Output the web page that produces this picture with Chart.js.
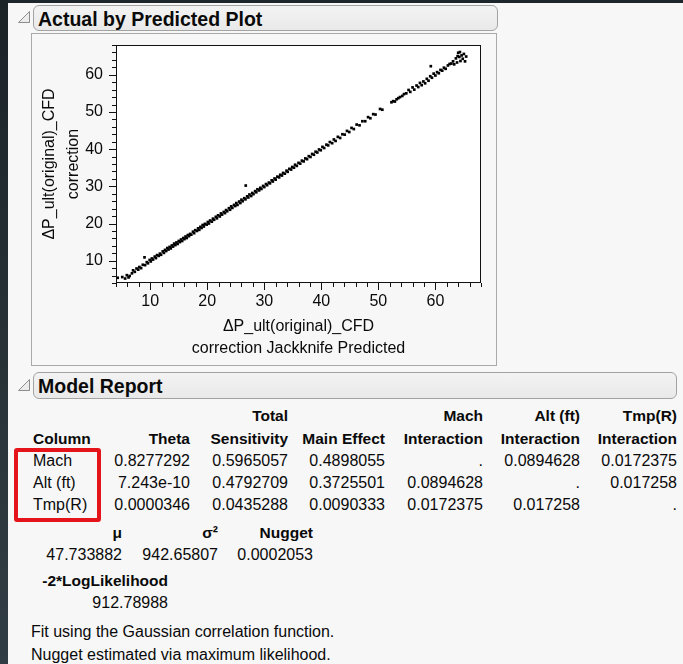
<!DOCTYPE html>
<html>
<head>
<meta charset="utf-8">
<script src="https://cdn.jsdelivr.net/npm/chart.js@4/dist/chart.umd.min.js"></script>
<style>
  html, body { margin: 0; padding: 0; }
  body { width: 683px; height: 664px; overflow: hidden; background: #1d262b; font-family: "Liberation Sans", Arial, sans-serif; color: #0a0a0a; }
  #page { position: absolute; left: 8px; top: 3px; width: 675px; height: 661px; background: #f7f7f7; }
  #strip { position: absolute; left: 0; top: 0; width: 8px; height: 664px; background: linear-gradient(#1b2327, #2b363c 70%, #313d44); }
  .hdr { position: absolute; left: 33px; height: 26px; border: 1px solid #a3a3a3; border-radius: 6px;
         background: linear-gradient(#f3f3f3, #e9e9e9); box-sizing: border-box; }
  .hdr span { position: absolute; left: 4px; top: 2px; font-weight: bold; font-size: 19.5px; line-height: 22px; }
  .tri { position: absolute; left: 0; top: 0; }
  #plotBox { position: absolute; left: 31px; top: 33px; width: 466px; height: 333px; box-sizing: border-box;
             border: 1px solid #a9a9a9; background: #f7f7f7; }
  #plotBox canvas { position: absolute; left: 0; top: 0; }
  .t { position: absolute; white-space: nowrap; font-size: 16px; line-height: 22px; }
  .b { font-weight: bold; font-size: 15.5px; }
  #redBox { position: absolute; left: 14px; top: 448px; width: 87px; height: 74px; box-sizing: border-box;
            border: 4px solid #e5141b; border-radius: 3px; }
</style>
</head>
<body>
<div id="page"></div>
<div id="strip"></div>
<svg class="tri" width="40" height="400">
  <polygon points="29.5,11.5 29.5,22.5 18.5,22.5" fill="#ececec" stroke="#8c8c8c"/>
  <polygon points="29.5,379.5 29.5,390.5 18.5,390.5" fill="#ececec" stroke="#8c8c8c"/>
</svg>
<div class="hdr" style="top:5px;width:465px"><span>Actual by Predicted Plot</span></div>
<div id="plotBox"><canvas id="avp" width="464" height="331"></canvas></div>
<div class="hdr" style="top:372px;width:644px;height:27px"><span>Model Report</span></div>
<div id="report"></div>
<div id="redBox"></div>
<script>
// jackknife predicted vs actual, read point by point
const predicted = [
  4.3, 5.1, 5.6, 5.9, 6.2, 6.4, 6.8, 7.0, 7.3, 7.6,
  7.9, 8.1, 8.4, 8.7, 9.0, 9.1, 9.4, 9.6, 9.9, 10.1,
  10.3, 10.5, 10.8, 11.0, 11.2, 11.5, 11.7, 11.9, 12.2, 12.4,
  12.6, 12.8, 13.0, 13.2, 13.4, 13.6, 13.8, 14.0, 14.2, 14.4,
  14.6, 14.8, 15.0, 15.2, 15.4, 15.6, 15.8, 16.0, 16.2, 16.4,
  16.6, 16.8, 17.0, 17.2, 17.5, 17.7, 17.9, 18.2, 18.4, 18.6,
  18.8, 19.0, 19.2, 19.4, 19.6, 19.9, 20.1, 20.3, 20.5, 20.8,
  21.0, 21.2, 21.5, 21.7, 21.9, 22.2, 22.4, 22.6, 22.9, 23.1,
  23.3, 23.5, 23.8, 24.0, 24.2, 24.4, 24.7, 24.9, 25.1, 25.3,
  25.6, 25.8, 26.0, 26.2, 26.5, 26.75, 26.7, 27.0, 27.2, 27.4,
  27.7, 27.9, 28.1, 28.4, 28.6, 28.8, 29.1, 29.3, 29.5, 29.8,
  30.0, 30.3, 30.5, 30.8, 31.0, 31.3, 31.5, 31.8, 32.0, 32.3,
  32.6, 32.8, 33.1, 33.3, 33.6, 33.9, 34.1, 34.4, 34.7, 34.9,
  35.2, 35.4, 35.7, 36.0, 36.3, 36.6, 36.9, 37.2, 37.5, 37.8,
  38.1, 38.4, 38.7, 39.0, 39.3, 39.6, 39.9, 40.2, 40.5, 40.9,
  41.2, 41.5, 41.9, 42.2, 42.5, 42.9, 43.3, 43.7, 44.1, 44.5,
  44.9, 45.3, 45.7, 46.2, 46.7, 47.2, 47.7, 48.2, 48.6, 49.1,
  49.5, 50.3, 50.7, 52.3, 52.6, 52.9, 53.2, 53.5, 53.8, 54.2,
  54.5, 54.9, 55.3, 55.6, 56.0, 56.3, 56.7, 57.0, 57.3, 57.6,
  57.9, 58.2, 58.5, 58.8, 59.1, 59.2, 59.4, 59.7, 60.0, 60.3,
  60.6, 60.9, 61.2, 61.5, 61.8, 62.2, 62.5, 62.8, 63.1, 63.3,
  63.6, 63.8, 64.0, 64.2, 64.4, 64.6, 64.8, 65.0, 65.2, 65.4,
  64.3, 63.9
];
const actual = [
  5.4, 5.6, 5.2, 6.1, 5.5, 5.9, 6.6, 7.4, 7.0, 7.9,
  7.6, 8.3, 8.0, 8.9, 10.9, 8.8, 9.6, 9.3, 10.2, 9.8,
  10.6, 10.3, 11.1, 10.7, 11.5, 11.3, 11.9, 11.6, 12.5, 12.1,
  12.9, 12.6, 13.4, 13.0, 13.7, 13.3, 14.1, 13.8, 14.6, 14.2,
  14.9, 14.5, 15.3, 15.0, 15.7, 15.3, 16.1, 15.8, 16.5, 16.1,
  16.9, 16.6, 17.2, 17.0, 17.8, 17.4, 18.2, 18.0, 18.7, 18.3,
  19.1, 18.8, 19.6, 19.2, 19.9, 19.7, 20.4, 20.0, 20.8, 20.5,
  21.3, 21.0, 21.8, 21.4, 22.2, 21.9, 22.7, 22.4, 23.1, 22.8,
  23.6, 23.3, 24.1, 23.7, 24.6, 24.2, 25.0, 24.7, 25.5, 25.0,
  25.9, 25.5, 26.4, 26.0, 26.8, 30.2, 26.5, 27.3, 27.0, 27.8,
  27.4, 28.2, 27.9, 28.7, 28.4, 29.2, 28.9, 29.6, 29.3, 30.1,
  29.8, 30.6, 30.3, 31.0, 30.8, 31.6, 31.3, 32.1, 31.8, 32.6,
  32.4, 33.1, 32.9, 33.6, 33.4, 34.2, 33.9, 34.7, 34.5, 35.2,
  35.0, 35.8, 35.5, 36.3, 36.1, 36.9, 36.7, 37.5, 37.3, 38.1,
  37.9, 38.7, 38.5, 39.3, 39.1, 39.9, 39.7, 40.6, 40.3, 41.2,
  41.0, 41.9, 41.6, 42.6, 42.2, 43.3, 43.0, 44.0, 43.9, 44.9,
  44.6, 45.7, 45.4, 46.6, 46.4, 47.5, 47.5, 48.6, 48.3, 49.4,
  49.3, 50.8, 50.6, 52.6, 52.9, 52.8, 53.4, 53.7, 54.0, 54.3,
  54.8, 55.0, 55.9, 55.4, 56.6, 56.0, 57.1, 56.7, 57.8, 57.2,
  58.2, 57.7, 58.9, 58.4, 59.6, 62.3, 59.2, 60.3, 59.8, 60.7,
  60.4, 61.3, 61.1, 61.9, 61.6, 62.5, 62.9, 63.0, 63.6, 62.8,
  64.4, 63.3, 65.9, 64.8, 63.7, 65.2, 64.3, 65.6, 63.6, 64.9,
  66.1, 65.0
];
const axisMin = 4, axisMax = 68, tickStep = 2;
const labelledTicks = [10, 20, 30, 40, 50, 60];
const xTitle = ['\u0394P_ult(original)_CFD', 'correction Jackknife Predicted'];
const yTitle = ['\u0394P_ult(original)_CFD', 'correction'];

// model report
const headRow1 = ['', '', 'Total', '', 'Mach', 'Alt (ft)', 'Tmp(R)'];
const headRow2 = ['Column', 'Theta', 'Sensitivity', 'Main Effect', 'Interaction', 'Interaction', 'Interaction'];
const bodyRows = [
  ['Mach', '0.8277292', '0.5965057', '0.4898055', '.', '0.0894628', '0.0172375'],
  ['Alt (ft)', '7.243e-10', '0.4792709', '0.3725501', '0.0894628', '.', '0.017258'],
  ['Tmp(R)', '0.0000346', '0.0435288', '0.0090333', '0.0172375', '0.017258', '.']
];
const statNames = ['\u03bc', '\u03c3\u00b2', 'Nugget'];
const statValues = ['47.733882', '942.65807', '0.0002053'];
const logLikName = '-2*LogLikelihood';
const logLikValue = '912.78988';
const notes = ['Fit using the Gaussian correlation function.', 'Nugget estimated via maximum likelihood.'];

const report = document.getElementById('report');
function put(txt, x, y, right, bold) {
  if (!txt) return;
  const d = document.createElement('div');
  d.className = bold ? 't b' : 't';
  d.textContent = txt;
  if (right) d.style.right = (683 - x) + 'px';
  else d.style.left = x + 'px';
  d.style.top = (y - 11) + 'px';
  report.appendChild(d);
}

const colRight = [0, 190, 288, 385, 483, 580, 677];
headRow1.forEach((h, i) => put(h, colRight[i], 416, true, true));
headRow2.forEach((h, i) => i === 0 ? put(h, 33, 439, false, true) : put(h, colRight[i], 439, true, true));
bodyRows.forEach((row, r) => {
  const y = 461 + r * 22;
  row.forEach((v, i) => i === 0 ? put(v, 33, y, false, false) : put(v, colRight[i], y, true, false));
});
const statRight = [122, 218, 313];
statNames.forEach((s, i) => put(s, statRight[i], 533, true, true));
statValues.forEach((s, i) => put(s, statRight[i], 555, true, false));
put(logLikName, 168, 581, true, true);
put(logLikValue, 168, 603, true, false);
notes.forEach((n, i) => put(n, 31, 632 + i * 23, false, false));

// plot frame, white plot area and outward ticks (major longer than minor)
const frameTicks = {
  id: 'frameTicks',
  beforeDatasetsDraw(chart) {
    const { ctx, chartArea: a } = chart;
    ctx.save();
    ctx.fillStyle = '#ffffff';
    ctx.fillRect(a.left, a.top, a.right - a.left, a.bottom - a.top);
    ctx.restore();
  },
  afterDraw(chart) {
    const { ctx, chartArea: a, scales: { x, y } } = chart;
    ctx.save();
    ctx.strokeStyle = '#111';
    ctx.lineWidth = 1;
    ctx.strokeRect(a.left + 0.5, a.top + 0.5, a.right - a.left - 1, a.bottom - a.top - 1);
    ctx.beginPath();
    x.ticks.forEach(t => {
      const px = Math.round(x.getPixelForValue(t.value)) + 0.5;
      const len = labelledTicks.includes(t.value) ? 7 : 4;
      ctx.moveTo(px, a.bottom);
      ctx.lineTo(px, a.bottom + len);
    });
    y.ticks.forEach(t => {
      const py = Math.round(y.getPixelForValue(t.value)) + 0.5;
      const len = labelledTicks.includes(t.value) ? 7 : 4;
      ctx.moveTo(a.left, py);
      ctx.lineTo(a.left - len, py);
    });
    ctx.stroke();
    ctx.restore();
  }
};

const tickFont = { family: '"Liberation Sans", Arial, sans-serif', size: 16 };
const tickLabel = v => labelledTicks.includes(v) ? String(v) : '';
// fixed axis boxes so the plot area lands where the frame belongs
const noEdgePadding = s => { s.paddingTop = 0; s.paddingBottom = 0; s.paddingLeft = 0; s.paddingRight = 0; };

new Chart(document.getElementById('avp'), {
  type: 'scatter',
  data: {
    datasets: [{
      data: predicted.map((p, i) => ({ x: p, y: actual[i] })),
      pointStyle: 'rect',
      pointRadius: 1.9,
      borderWidth: 0,
      backgroundColor: '#000'
    }]
  },
  options: {
    responsive: false,
    animation: false,
    devicePixelRatio: 1,
    layout: { padding: { top: 11, right: 15, left: 0, bottom: 0 } },
    plugins: { legend: { display: false }, tooltip: { enabled: false } },
    scales: {
      x: {
        type: 'linear', min: axisMin, max: axisMax,
        afterFit: s => { s.height = 82; noEdgePadding(s); },
        grid: { display: false, drawTicks: false },
        border: { display: false },
        ticks: { stepSize: tickStep, autoSkip: false, maxRotation: 0, padding: 9, color: '#0a0a0a', font: tickFont, callback: tickLabel },
        title: { display: true, text: xTitle, color: '#0a0a0a', padding: { top: 0, bottom: 5 },
                 font: { family: tickFont.family, size: 16, lineHeight: 1.375 } }
      },
      y: {
        type: 'linear', min: axisMin, max: axisMax,
        afterFit: s => { s.width = 84; noEdgePadding(s); },
        grid: { display: false, drawTicks: false },
        border: { display: false },
        ticks: { stepSize: tickStep, autoSkip: false, padding: 13, color: '#0a0a0a', font: tickFont, callback: tickLabel },
        title: { display: true, text: yTitle, color: '#0a0a0a', padding: { top: 6, bottom: 0 },
                 font: { family: tickFont.family, size: 16, lineHeight: 1.5 } }
      }
    }
  },
  plugins: [frameTicks]
});
</script>
</body>
</html>
